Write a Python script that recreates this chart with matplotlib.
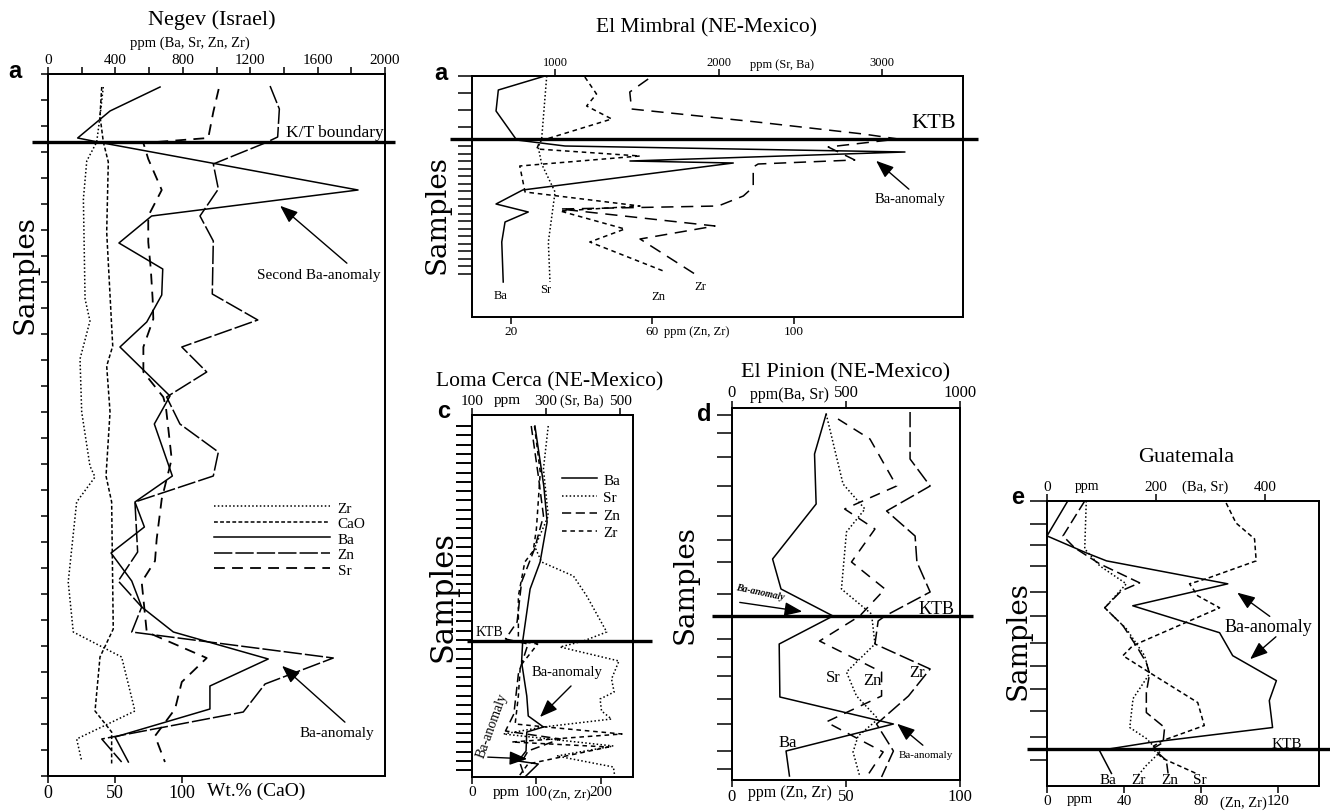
import numpy as np
import matplotlib
matplotlib.use("Agg")
import matplotlib.pyplot as plt
from matplotlib.lines import Line2D
from matplotlib.patches import FancyArrowPatch

W, H = 1330, 812
plt.rcParams['font.family'] = ['Liberation Serif', 'DejaVu Serif']

# ---------------------------------------------------------------------
# DATA  (values in ppm / wt.%, depth = position of the sample below top)
# ---------------------------------------------------------------------

# Negev (Israel)
negev_ba = [665, 368, 176, 326, 1840, 615, 421, 681, 675, 586, 427, 724, 631,
            738, 516, 572, 374, 497, 556, 744, 1307, 961, 961, 398, 477]
negev_ba_d = [13, 37, 64, 69, 116, 142, 169, 195, 221, 248, 273, 322, 350,
              402, 428, 453, 479, 507, 533, 558, 585, 612, 635, 663, 688]
negev_zn = [1318, 1373, 1363, 1288, 981, 1011, 902, 981, 975, 1245, 794, 942, 704,
            783, 1011, 981, 516, 532, 417, 556, 497, 1693, 1288, 1159, 319, 437]
negev_zn_d = [12, 35, 63, 69, 90, 115, 142, 167, 220, 246, 273, 298, 323,
              350, 378, 402, 428, 478, 507, 533, 558, 584, 610, 638, 665, 688]
negev_sr = [1013, 981, 951, 566, 595, 675, 595, 595, 610, 621, 625, 566, 566,
            684, 699, 734, 675, 645, 635, 556, 586, 942, 794, 754, 635, 694]
negev_sr_d = [15, 38, 64, 69, 85, 116, 142, 168, 195, 225, 245, 273, 298,
              323, 332, 385, 425, 465, 487, 508, 558, 584, 608, 635, 662, 688]
negev_zr = [328, 309, 289, 230, 210, 220, 249, 190, 200, 249, 279, 170, 120,
            150, 437, 516, 170, 200]
negev_zr_d = [13, 42, 68, 87, 125, 225, 247, 285, 338, 392, 403, 428, 508,
              558, 583, 637, 665, 687]
negev_cao = [40.1, 38.8, 41.3, 45.0, 43.8, 48.3, 43.8, 46.3, 43.3, 47.5, 48.7,
             38.8, 35.1, 47.5, 47.5]
negev_cao_d = [13, 42, 68, 88, 158, 272, 292, 338, 402, 428, 555, 583, 637, 658, 690]
negev_ktb = 68

# El Mimbral (NE-Mexico)
mim_ba = [938, 653, 639, 765, 1061, 3140, 1458, 2090, 802, 639, 836, 694, 674, 683]
mim_ba_d = [0, 14, 35, 64, 70, 76, 85, 87, 114, 128, 136, 146, 166, 206]
mim_sr = [949, 918, 897, 918, 1000, 959, 969]
mim_sr_d = [0, 63, 71, 88, 116, 166, 206]
mim_zn = [40.9, 44.2, 41.4, 48.5, 28.2, 27.3, 56.5, 22.5, 24.0, 56.5, 33.9, 52.2, 42.3, 63.1]
mim_zn_d = [1, 18, 30, 43, 65, 73, 80, 90, 116, 130, 135, 153, 166, 195]
mim_zr = [58.8, 53.6, 54.1, 89.5, 119.6, 129.5, 109.7, 117.2, 89.9, 88.5, 88.5,
          85.7, 78.6, 33.9, 77.7, 56.5, 72.0]
mim_zr_d = [3, 16, 33, 46, 58, 63, 71, 84, 88, 91, 111, 120, 130, 133, 150, 163, 198]
mim_ktb = 63

# Loma Cerca (NE-Mexico)
lc_ba = [270, 294, 303, 284, 257, 237, 234, 248, 252, 293, 248, 246, 225, 279, 243]
lc_ba_d = [11, 71, 107, 147, 174, 226, 247, 281, 301, 312, 317, 336, 346, 349, 362]
lc_sr = [306, 293, 306, 270, 288, 374, 410, 464, 401, 338, 497, 477, 484, 446, 450,
         477, 293, 185, 482, 329, 482, 486]
lc_sr_d = [11, 54, 101, 132, 147, 161, 181, 217, 226, 232, 246, 264, 277, 284, 296,
           304, 312, 319, 331, 341, 352, 362]
lc_zn = [92, 103, 111, 97, 77, 70, 52, 87, 72, 65, 52, 137, 87, 75, 82]
lc_zn_d = [11, 61, 101, 134, 167, 207, 224, 229, 259, 299, 316, 324, 336, 349, 362]
lc_zr = [97, 106, 100, 95, 82, 72, 72, 102, 75, 72, 67, 115, 233, 62, 212, 87, 72]
lc_zr_d = [11, 57, 114, 136, 147, 181, 226, 229, 251, 281, 309, 312, 319, 327, 332, 349, 362]
lc_ktb = 226

# El Pinion (NE-Mexico)
pin_ba = [413, 362, 369, 178, 215, 443, 207, 210, 708, 237, 252]
pin_ba_d = [6, 46, 96, 151, 181, 208, 236, 289, 316, 343, 368]
pin_sr = [413, 487, 583, 502, 480, 612, 627, 502, 546, 641, 553, 531, 560]
pin_sr_d = [6, 76, 101, 124, 181, 206, 236, 264, 288, 311, 328, 344, 368]
pin_zn = [46.5, 60.5, 72.2, 49.4, 62.7, 52.4, 67.1, 56.0, 38.4, 65.6, 65.6, 41.3, 66.3, 59.0]
pin_zn_d = [11, 31, 78, 101, 121, 154, 181, 208, 233, 264, 288, 314, 344, 369]
pin_zr = [78.1, 78.1, 86.9, 67.8, 80.3, 81.1, 86.9, 67.1, 64.1, 62.7, 86.9, 77.4,
          63.4, 70.8, 65.6]
pin_zr_d = [4, 51, 78, 103, 128, 154, 184, 208, 213, 236, 261, 288, 316, 343, 369]
pin_ktb = 208
pin_samples = [7, 25, 49, 78, 108, 132, 154, 186, 231, 249, 268, 291, 316, 343, 361]

# Guatemala
gua_ba = [38, 0, 72, 109, 331, 157, 316, 340, 420, 407, 413, 188, 96, 118]
gua_ba_d = [0, 35, 52, 60, 83, 105, 132, 155, 180, 200, 227, 242, 250, 273]
gua_sr = [328, 346, 380, 383, 291, 261, 276, 316, 157, 139, 188, 276, 288, 212, 191, 212, 273]
gua_sr_d = [2, 22, 38, 60, 78, 83, 95, 107, 145, 155, 172, 202, 225, 240, 247, 258, 273]
gua_zn = [19.6, 8.3, 14.4, 27.4, 48.1, 38.6, 30.0, 39.5, 47.3, 51.6, 53.3, 51.6,
          51.6, 61.1, 60.3, 55.1, 62.0, 62.9]
gua_zn_d = [0, 35, 47, 63, 82, 90, 107, 125, 148, 162, 173, 192, 212, 227, 242, 248, 260, 273]
gua_zr = [20.4, 19.6, 27.4, 41.2, 30.0, 41.2, 50.7, 53.3, 44.7, 43.0, 51.6, 58.5, 51.6, 47.3]
gua_zr_d = [0, 48, 65, 83, 107, 128, 155, 173, 198, 227, 238, 252, 265, 275]
gua_ktb = 249
gua_samples = [0, 23, 44, 65, 91, 115, 142, 165, 188, 210, 236, 260]

# ---------------------------------------------------------------------
# HELPERS
# ---------------------------------------------------------------------

fig = plt.figure(figsize=(W / 100, H / 100), dpi=100)

SOLID = '-'
DOT = (0, (1, 1.5))
SHORT = (0, (3, 2.5))
MED = (0, (6, 4))
LONG = (0, (10, 3))


def panel(L, T, R, B, top_lim, bot_lim, depth):
    ax = fig.add_axes([L / W, 1 - B / H, (R - L) / W, (B - T) / H])
    ax2 = ax.twiny()
    ax.set_xlim(*top_lim)
    ax2.set_xlim(*bot_lim)
    ax.set_ylim(depth, 0)
    ax.xaxis.tick_top()
    ax2.xaxis.tick_bottom()
    for a in (ax, ax2):
        for s in a.spines.values():
            s.set_linewidth(1.3)
        a.tick_params(axis='x', which='both', direction='out', length=5,
                      width=1.1, pad=1)
    ax.tick_params(axis='y', direction='out', labelleft=False)
    ax.box = (L, T, R, B)
    return ax, ax2


def txt(x, y, s, size, **kw):
    kw.setdefault('ha', 'center')
    kw.setdefault('va', 'center')
    fig.text(x / W, 1 - y / H, s, fontsize=size, **kw)


def arrow(x0, y0, x1, y1):
    fig.add_artist(FancyArrowPatch((x0 / W, 1 - y0 / H), (x1 / W, 1 - y1 / H),
                                   transform=fig.transFigure,
                                   arrowstyle='-|>,head_length=0.9,head_width=0.35',
                                   mutation_scale=12, lw=1.0, color='k'))


def ktb(ax, d, x0, x1):
    L, T, R, B = ax.box
    ax.plot([(x0 - L) / (R - L), (x1 - L) / (R - L)], [d, d],
            transform=ax.get_yaxis_transform(), color='k', lw=2.4,
            clip_on=False, solid_capstyle='butt')


def letter(x, y, s):
    txt(x, y, s, 17, fontweight='bold', family='Liberation Sans')


def samples(x, y, size=20):
    txt(x, y, 'Samples', size, rotation=90, family='DejaVu Serif')


LW = 1.1

# ---------------------------------------------------------------------
# NEGEV
# ---------------------------------------------------------------------
ax, ax2 = panel(48, 75, 385, 777, (0, 2000), (0, 251.5), 702)
ax.plot(negev_zr, negev_zr_d, color='k', lw=LW, ls=DOT)
ax2.plot(negev_cao, negev_cao_d, color='k', lw=LW, ls=(0, (2.5, 1.5)))
ax.plot(negev_ba, negev_ba_d, color='k', lw=LW, ls=SOLID)
ax.plot(negev_zn, negev_zn_d, color='k', lw=LW, ls=(0, (12, 2)))
ax.plot(negev_sr, negev_sr_d, color='k', lw=1.3, ls=MED)
ax.set_xticks(np.arange(0, 2001, 400))
ax.set_xticks(np.arange(200, 2000, 400), minor=True)
ax.tick_params(axis='x', labelsize=11)
ax2.set_xticks([0, 50, 100])
ax2.tick_params(axis='x', labelsize=13)
ax.set_yticks(np.arange(0, 703, 26))
ax.tick_params(axis='y', length=5, width=1.1)
ktb(ax, negev_ktb, 32, 395)
hd = [Line2D([], [], color='k', lw=LW, ls=DOT),
      Line2D([], [], color='k', lw=LW, ls=(0, (2.5, 1.5))),
      Line2D([], [], color='k', lw=LW, ls=SOLID),
      Line2D([], [], color='k', lw=LW, ls=(0, (12, 2))),
      Line2D([], [], color='k', lw=1.3, ls=MED)]
ax.legend(hd, ['Zr', 'CaO', 'Ba', 'Zn', 'Sr'], loc='upper left',
          bbox_to_anchor=((214 - 48) / 337, 1 - (502 - 75) / 702),
          frameon=False, fontsize=11, handlelength=7.6, handletextpad=0.5,
          labelspacing=0.12, borderpad=0, borderaxespad=0)

txt(212, 20, 'Negev (Israel)', 16)
txt(190, 43, 'ppm (Ba, Sr, Zn, Zr)', 10.5)
letter(15, 72, 'a')
samples(25, 275)
txt(335, 133, 'K/T boundary', 12.5)
txt(319, 275, 'Second Ba-anomaly', 11)
arrow(349, 266, 278, 205)
txt(337, 734, 'Ba-anomaly', 11)
arrow(347, 725, 280, 665)
txt(256, 791, 'Wt.% (CaO)', 14)

# ---------------------------------------------------------------------
# EL MIMBRAL
# ---------------------------------------------------------------------
ax, ax2 = panel(472, 77, 963, 318, (492, 3495), (9.0, 147.8), 241)
ax.plot(mim_ba, mim_ba_d, color='k', lw=LW, ls=SOLID)
ax.plot(mim_sr, mim_sr_d, color='k', lw=LW, ls=DOT)
ax2.plot(mim_zn, mim_zn_d, color='k', lw=LW, ls=SHORT)
ax2.plot(mim_zr, mim_zr_d, color='k', lw=LW, ls=(0, (8, 5)))
ax.set_xticks([1000, 2000, 3000])
ax.tick_params(axis='x', labelsize=9)
ax2.set_xticks([20, 60, 100])
ax2.tick_params(axis='x', labelsize=9.5)
ax.set_yticks(list(np.arange(0, 52, 17)) + list(np.arange(70, 198, 7.5)))
ax.tick_params(axis='y', length=10, width=1.1)
ktb(ax, mim_ktb, 450, 978)

txt(706, 28, 'El Mimbral (NE-Mexico)', 15.5)
letter(441, 73, 'a')
samples(437, 215)
txt(782, 65, 'ppm (Sr, Ba)', 9)
txt(934, 124, 'KTB', 16)
txt(910, 199, 'Ba-anomaly', 10.5)
arrow(911, 192, 874, 160)
txt(501, 296, 'Ba', 9)
txt(546, 290, 'Sr', 9)
txt(658, 297, 'Zn', 9)
txt(700, 287, 'Zr', 9)
txt(697, 332, 'ppm (Zn, Zr)', 9)

# ---------------------------------------------------------------------
# LOMA CERCA
# ---------------------------------------------------------------------
ax, ax2 = panel(472, 416, 633, 778, (100, 535), (0, 250), 362)
ax.plot(lc_ba, lc_ba_d, color='k', lw=LW, ls=SOLID)
ax.plot(lc_sr, lc_sr_d, color='k', lw=LW, ls=DOT)
ax2.plot(lc_zn, lc_zn_d, color='k', lw=LW, ls=(0, (6, 3)))
ax2.plot(lc_zr, lc_zr_d, color='k', lw=LW, ls=SHORT)
ax.set_xticks([100, 300, 500])
ax.tick_params(axis='x', labelsize=11)
ax2.set_xticks([0, 100, 200])
ax2.tick_params(axis='x', labelsize=11)
ax.set_yticks(np.arange(11, 356, 9.3))
ax.tick_params(axis='y', length=11.5, width=1.4)
ktb(ax, lc_ktb, 467, 652)
hd = [Line2D([], [], color='k', lw=LW, ls=SOLID),
      Line2D([], [], color='k', lw=LW, ls=DOT),
      Line2D([], [], color='k', lw=LW, ls=(0, (6, 3))),
      Line2D([], [], color='k', lw=LW, ls=SHORT)]
ax.legend(hd, ['Ba', 'Sr', 'Zn', 'Zr'], loc='upper left',
          bbox_to_anchor=((562 - 472) / 161, 1 - (474 - 416) / 362),
          frameon=False, fontsize=11, handlelength=2.3, handletextpad=0.4,
          labelspacing=0.25, borderpad=0, borderaxespad=0)

txt(550, 382, 'Loma Cerca (NE-Mexico)', 15.5)
letter(444, 412, 'c')
samples(443, 597, 22)
txt(507, 401, 'ppm', 11)
txt(582, 401, '(Sr, Ba)', 10)
txt(506, 793, 'ppm', 11)
txt(569, 795, '(Zn, Zr)', 9.5)
txt(489, 633, 'KTB', 10)
txt(567, 673, 'Ba-anomaly', 10.5)
arrow(573, 685, 538, 720)
txt(492, 726, 'Ba-anomaly', 10, rotation=70)
arrow(485, 758, 530, 760)

# ---------------------------------------------------------------------
# EL PINION
# ---------------------------------------------------------------------
ax, ax2 = panel(732, 409, 960, 781, (0, 1000), (0, 100), 372)
ax.plot(pin_ba, pin_ba_d, color='k', lw=LW, ls=SOLID)
ax.plot(pin_sr, pin_sr_d, color='k', lw=LW, ls=DOT)
ax2.plot(pin_zn, pin_zn_d, color='k', lw=LW, ls=(0, (7, 5)))
ax2.plot(pin_zr, pin_zr_d, color='k', lw=LW, ls=LONG)
ax.set_xticks([0, 500, 1000])
ax.tick_params(axis='x', labelsize=12)
ax2.set_xticks([0, 50, 100])
ax2.tick_params(axis='x', labelsize=12)
ax.set_yticks(pin_samples)
ax.tick_params(axis='y', length=11, width=1.1)
ktb(ax, pin_ktb, 712, 973)

txt(846, 373, 'El Pinion (NE-Mexico)', 16)
letter(704, 415, 'd')
samples(685, 585)
txt(790, 395, 'ppm(Ba, Sr)', 11.5)
txt(790, 793, 'ppm (Zn, Zr)', 11.5)
txt(937, 610, 'KTB', 13)
txt(833, 678, 'Sr', 12)
txt(872, 681, 'Zn', 12)
txt(917, 673, 'Zr', 12)
txt(788, 743, 'Ba', 12)
txt(926, 756, 'Ba-anomaly', 8)
arrow(925, 748, 895, 723)
txt(760, 593, 'Ba-anomaly', 7, rotation=-12, style='italic', fontweight='bold')
arrow(737, 603, 805, 613)

# ---------------------------------------------------------------------
# GUATEMALA
# ---------------------------------------------------------------------
ax, ax2 = panel(1047, 502, 1319, 787, (0, 498), (0, 141.3), 285.6)
ax.plot(gua_ba, gua_ba_d, color='k', lw=LW, ls=SOLID)
ax.plot(gua_sr, gua_sr_d, color='k', lw=LW, ls=(0, (3, 2)))
ax2.plot(gua_zn, gua_zn_d, color='k', lw=LW, ls=(0, (7, 3)))
ax2.plot(gua_zr, gua_zr_d, color='k', lw=LW, ls=DOT)
ax.set_xticks([0, 200, 400])
ax.tick_params(axis='x', labelsize=11)
ax2.set_xticks([0, 40, 80, 120])
ax2.tick_params(axis='x', labelsize=11)
ax.set_yticks(gua_samples)
ax.tick_params(axis='y', length=12, width=1.1)
ktb(ax, gua_ktb, 1027, 1330)

txt(1186, 458, 'Guatemala', 16)
letter(1018, 498, 'e')
samples(1018, 641)
txt(1087, 487, 'ppm', 10)
txt(1205, 487, '(Ba, Sr)', 10.5)
txt(1080, 800, 'ppm', 10.5)
txt(1243, 803, '(Zn, Zr)', 10.5)
txt(1287, 745, 'KTB', 11)
txt(1268, 627, 'Ba-anomaly', 13)
arrow(1272, 619, 1235, 592)
arrow(1278, 636, 1248, 662)
txt(1108, 781, 'Ba', 11)
txt(1138, 781, 'Zr', 11)
txt(1170, 781, 'Zn', 11)
txt(1200, 781, 'Sr', 11)

fig.savefig('out.png', dpi=100)
